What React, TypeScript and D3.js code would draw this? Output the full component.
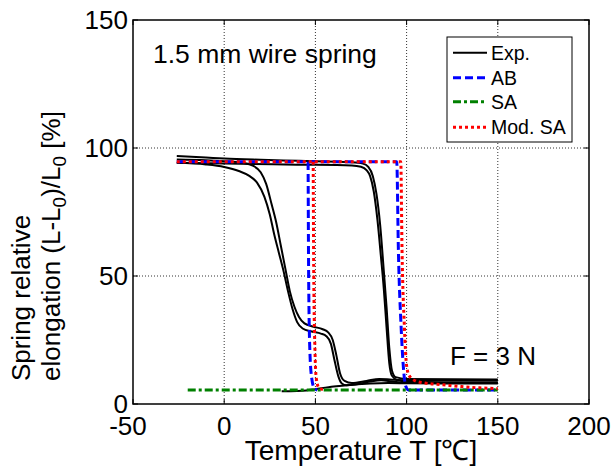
import React from 'react';
import * as d3 from 'd3';

const W = 613, H = 468;
const xTicks = [-50, 0, 50, 100, 150, 200];
const yTicks = [0, 50, 100, 150];
const gridX = [0, 50, 100, 150];
const gridY = [50, 100];

// Experimental curves (T in °C, elongation in %)
const exp1T = [-26, -10, 0, 8, 14, 18, 22, 25, 27.5, 30, 32.5, 35, 37.5, 40, 43, 48, 53, 56, 58.5, 60.5, 62.5, 64.5, 67, 72, 80, 86, 92, 100, 150];
const exp1Y = [94.2, 93.6, 92.6, 91, 89, 86.5, 81, 74, 66, 59, 52, 44, 37, 32, 29.5, 28.3, 27.5, 26.5, 23.5, 17, 11, 8, 7.3, 7.6, 8.8, 9.3, 8.8, 8.2, 8.2];
const exp2T = [-26, -10, 0, 10, 16, 20, 23, 26, 28.5, 31, 33.5, 36, 38.5, 41, 44, 49, 54, 57, 59.5, 61.5, 63.5, 66, 70, 78, 85, 92, 100, 150];
const exp2Y = [95.5, 95.2, 94.8, 94.2, 93, 90.5, 86, 78, 71, 62, 53, 44, 38, 34, 31.5, 30.2, 29.2, 28, 25, 19, 12, 9, 8.2, 9, 9.8, 9.5, 9.3, 9.3];
const exp3T = [-26, 0, 40, 70, 75, 78, 80, 82, 84, 86, 87.5, 89, 90.5, 92, 95, 100, 120, 150];
const exp3Y = [94.2, 93.9, 93.5, 93.2, 92.7, 91.4, 89, 83, 72, 57, 45, 30, 16, 11, 9.3, 8.8, 8.5, 8.5];
const exp4T = [-26, -10, 0, 20, 41, 70, 76, 79, 81.5, 83.5, 85.5, 87.5, 89, 90.5, 92, 94, 100, 150];
const exp4Y = [96.9, 96.3, 95.9, 95.4, 95, 94.4, 93.9, 92.6, 89, 82, 70, 52, 38, 22, 13, 10.5, 9.8, 9.6];
const exp5T = [31.5, 40, 45, 50, 60, 70, 80, 90, 100, 120, 150];
const exp5Y = [5, 5.1, 5.3, 5.8, 6.8, 7.5, 8, 8.2, 8.1, 8.0, 8.0];

// AB model
const abUpperT = [-26, 94.6, 95.5, 97, 98.5, 99.5, 101, 150];
const abUpperY = [94.6, 94.6, 60, 30, 12, 7, 5.5, 5.5];
const abLeftT = [46, 46.3, 47, 48, 49.5, 51];
const abLeftY = [94.6, 50, 20, 10, 6, 5.5];

// SA model
const saT = [-20, 150];
const saY = [5.5, 5.5];

// Modified SA model
const modUpperT = [-26, 96.8, 97.5, 98.8, 100, 101.5, 105, 110, 120, 130, 140, 150];
const modUpperY = [94.6, 94.6, 60, 30, 15, 11, 9, 8.2, 7.5, 6.8, 6.3, 6];
const modLeftT = [48.8, 49.1, 49.8, 50.5, 52, 55];
const modLeftY = [94.6, 50, 20, 10, 6.2, 5.5];

const legendLabels = ['Exp.', 'AB', 'SA', 'Mod. SA'];

const FONT = '"Liberation Sans", Arial, Helvetica, sans-serif';

export default function App() {
  const left = 133, right = 589, top = 20, bottom = 404;
  const x = d3.scaleLinear().domain([-50, 200]).range([left, right]);
  const y = d3.scaleLinear().domain([0, 150]).range([bottom, top]);
  const mk = (T: number[], V: number[], curve: any = d3.curveMonotoneX) =>
    d3.line<number>().x((d, i) => x(T[i])).y((d, i) => y(V[i])).curve(curve)(T) || '';

  const exps = [[exp1T, exp1Y], [exp2T, exp2Y], [exp3T, exp3Y], [exp4T, exp4Y], [exp5T, exp5Y]];

  const styles = [
    { stroke: '#000', dash: undefined, w: 2 },
    { stroke: '#0000ff', dash: '8,4', w: 3 },
    { stroke: '#008000', dash: '8,3,3,3', w: 3 },
    { stroke: '#ff0000', dash: '3,3', w: 3 },
  ];

  const lgX = 447, lgY = 37, lgW = 125, lgH = 105;
  const lgRows = [52.7, 77.7, 101.7, 127.3];

  return (
    <svg width={W} height={H} style={{ position: 'absolute', left: 0, top: 0, background: '#fff' }} fontFamily={FONT}>
      <rect x={0} y={0} width={W} height={H} fill="#fff" />
      {/* grid */}
      {gridX.map(v => (
        <line key={'gx' + v} x1={x(v)} x2={x(v)} y1={top} y2={bottom} stroke="#333" strokeWidth={1} strokeDasharray="1,2" />
      ))}
      {gridY.map(v => (
        <line key={'gy' + v} y1={y(v)} y2={y(v)} x1={left} x2={right} stroke="#333" strokeWidth={1} strokeDasharray="1,2" />
      ))}
      {/* ticks */}
      {xTicks.map(v => (
        <g key={'xt' + v}>
          <line x1={x(v)} x2={x(v)} y1={bottom} y2={bottom - 5} stroke="#000" />
          <line x1={x(v)} x2={x(v)} y1={top} y2={top + 5} stroke="#000" />
          <text x={x(v) - (v < 0 ? 5 : 0)} y={435} textAnchor="middle" fontSize={26}>{v}</text>
        </g>
      ))}
      {yTicks.map(v => (
        <g key={'yt' + v}>
          <line x1={left} x2={left + 5} y1={y(v)} y2={y(v)} stroke="#000" />
          <line x1={right} x2={right - 5} y1={y(v)} y2={y(v)} stroke="#000" />
          <text x={128} y={y(v) + 9} textAnchor="end" fontSize={26}>{v}</text>
        </g>
      ))}

      {/* data */}
      {exps.map(([T, V], i) => (
        <path key={'e' + i} d={mk(T, V)} fill="none" stroke="#000" strokeWidth={2} />
      ))}
      <path d={mk(abUpperT, abUpperY)} fill="none" stroke={styles[1].stroke} strokeWidth={3} strokeDasharray={styles[1].dash} />
      <path d={mk(abLeftT, abLeftY)} fill="none" stroke={styles[1].stroke} strokeWidth={3} strokeDasharray={styles[1].dash} />
      <path d={mk(saT, saY, d3.curveLinear)} fill="none" stroke={styles[2].stroke} strokeWidth={3} strokeDasharray={styles[2].dash} />
      <path d={mk(modUpperT, modUpperY)} fill="none" stroke={styles[3].stroke} strokeWidth={3} strokeDasharray={styles[3].dash} />
      <path d={mk(modLeftT, modLeftY)} fill="none" stroke={styles[3].stroke} strokeWidth={3} strokeDasharray={styles[3].dash} />

      {/* box */}
      <rect x={left} y={top} width={right - left} height={bottom - top} fill="none" stroke="#000" strokeWidth={1.5} />

      {/* annotations */}
      <text x={153} y={63} fontSize={26.5}>1.5 mm wire spring</text>
      <text x={450} y={365} fontSize={26}>F = 3 N</text>

      {/* legend */}
      <rect x={lgX} y={lgY} width={lgW} height={lgH} fill="#fff" stroke="#000" strokeWidth={1} />
      {legendLabels.map((lab, i) => (
        <g key={'lg' + i}>
          <line x1={453} x2={487} y1={lgRows[i]} y2={lgRows[i]} stroke={styles[i].stroke} strokeWidth={styles[i].w} strokeDasharray={styles[i].dash} />
          <text x={491} y={lgRows[i] + 7} fontSize={19.5}>{lab}</text>
        </g>
      ))}

      {/* axis labels */}
      <text x={361} y={460} textAnchor="middle" fontSize={28}>Temperature T [℃]</text>
      <text transform="translate(30,298) rotate(-90)" textAnchor="middle" fontSize={26}>Spring relative</text>
      <text transform="translate(60,246) rotate(-90)" textAnchor="middle" fontSize={26}>
        elongation (L-L<tspan dy={6} fontSize={19}>0</tspan><tspan dy={-6}>)/L</tspan><tspan dy={6} fontSize={19}>0</tspan><tspan dy={-6}> [%]</tspan>
      </text>
    </svg>
  );
}
